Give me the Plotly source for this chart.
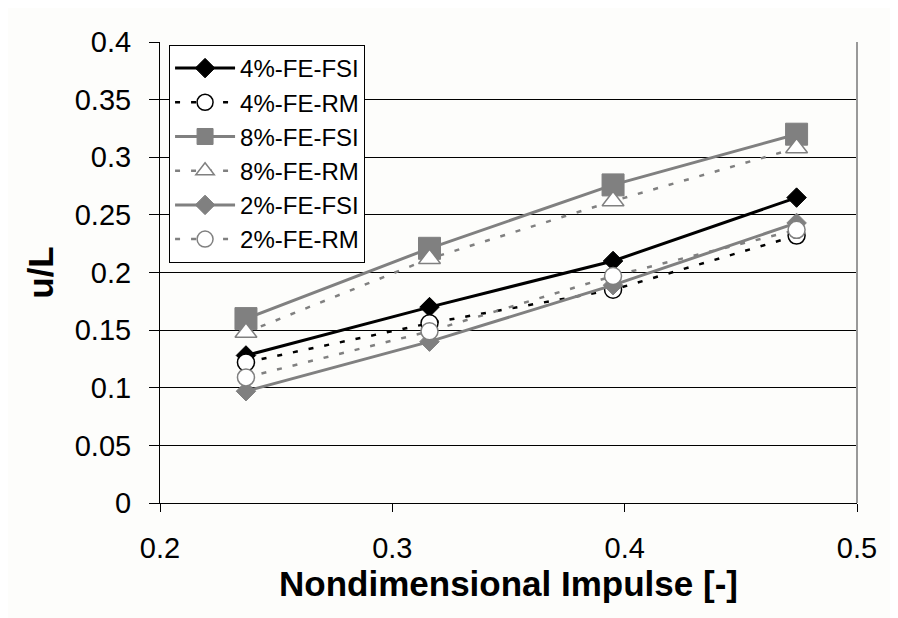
import plotly.graph_objects as go

impulse = [0.237, 0.316, 0.395, 0.474]

fsi_4 = [0.128, 0.170, 0.210, 0.265]
rm_4 = [0.122, 0.156, 0.185, 0.232]
fsi_8 = [0.160, 0.221, 0.276, 0.320]
rm_8 = [0.148, 0.212, 0.262, 0.308]
fsi_2 = [0.097, 0.140, 0.189, 0.243]
rm_2 = [0.109, 0.149, 0.197, 0.237]

names = ["4%-FE-FSI", "4%-FE-RM", "8%-FE-FSI", "8%-FE-RM", "2%-FE-FSI", "2%-FE-RM"]
y_ticks = [0, 0.05, 0.1, 0.15, 0.2, 0.25, 0.3, 0.35, 0.4]
y_tick_text = ["0", "0.05", "0.1", "0.15", "0.2", "0.25", "0.3", "0.35", "0.4"]
x_ticks = [0.2, 0.3, 0.4, 0.5]
x_tick_text = ["0.2", "0.3", "0.4", "0.5"]

BLACK = "#000000"
GRAY = "#808080"
DASH = "5px,11px"

series = [
    (fsi_4, dict(color=BLACK, width=3), dict(symbol="diamond", size=15, color=BLACK, line=dict(color=BLACK, width=1))),
    (rm_4, dict(color=BLACK, width=2.5, dash=DASH), dict(symbol="circle", size=17, color="white", line=dict(color=BLACK, width=1.5))),
    (fsi_8, dict(color=GRAY, width=3), dict(symbol="square", size=22, color=GRAY, line=dict(color=GRAY, width=1))),
    (rm_8, dict(color=GRAY, width=2.5, dash=DASH), dict(symbol="triangle-up", size=19, color="white", line=dict(color=GRAY, width=1.5))),
    (fsi_2, dict(color=GRAY, width=3), dict(symbol="diamond", size=15, color=GRAY, line=dict(color=GRAY, width=1))),
    (rm_2, dict(color=GRAY, width=2.5, dash=DASH), dict(symbol="circle", size=17, color="white", line=dict(color=GRAY, width=1.5))),
]

fig = go.Figure()
for name, (vals, line, marker) in zip(names, series):
    fig.add_trace(go.Scatter(x=impulse, y=vals, name=name, mode="lines+markers",
                             line=line, marker=marker))

FONT = "Liberation Sans, Arial, sans-serif"

fig.update_layout(
    width=898, height=618,
    margin=dict(l=152, r=49, t=34, b=123),
    paper_bgcolor="#fdfdfb",
    plot_bgcolor="#fdfdfb",
    font=dict(family=FONT, color="black", size=29),
    showlegend=True,
    legend=dict(
        x=0.013, y=0.9935, xanchor="left", yanchor="top",
        bgcolor="white", bordercolor="black", borderwidth=1,
        font=dict(family=FONT, size=24, color="black"),
        itemwidth=60, tracegroupgap=0,
    ),
    xaxis=dict(
        range=[0.2, 0.5], tickvals=x_ticks, ticktext=x_tick_text,
        showgrid=False, zeroline=False,
        showline=True, linecolor="black", linewidth=1,
        ticks="outside", ticklen=8, tickcolor="black", ticklabelstandoff=11,
        tickfont=dict(family=FONT, size=29),
        title=dict(text="<b>Nondimensional Impulse [-]</b>", font=dict(family=FONT, size=35), standoff=4),
    ),
    yaxis=dict(
        range=[0, 0.4], tickvals=y_ticks, ticktext=y_tick_text,
        showgrid=True, gridcolor="black", gridwidth=1, zeroline=False,
        showline=True, linecolor="black", linewidth=1,
        ticks="outside", ticklen=10, tickcolor="black", ticklabelstandoff=12,
        tickfont=dict(family=FONT, size=29),
        title=dict(text="<b>u/L</b>", font=dict(family=FONT, size=35), standoff=10),
    ),
    shapes=[dict(type="line", xref="x domain", yref="y domain", x0=1, x1=1, y0=0, y1=1,
                 line=dict(color="#999999", width=2))],
)

fig.write_html("out.html")
